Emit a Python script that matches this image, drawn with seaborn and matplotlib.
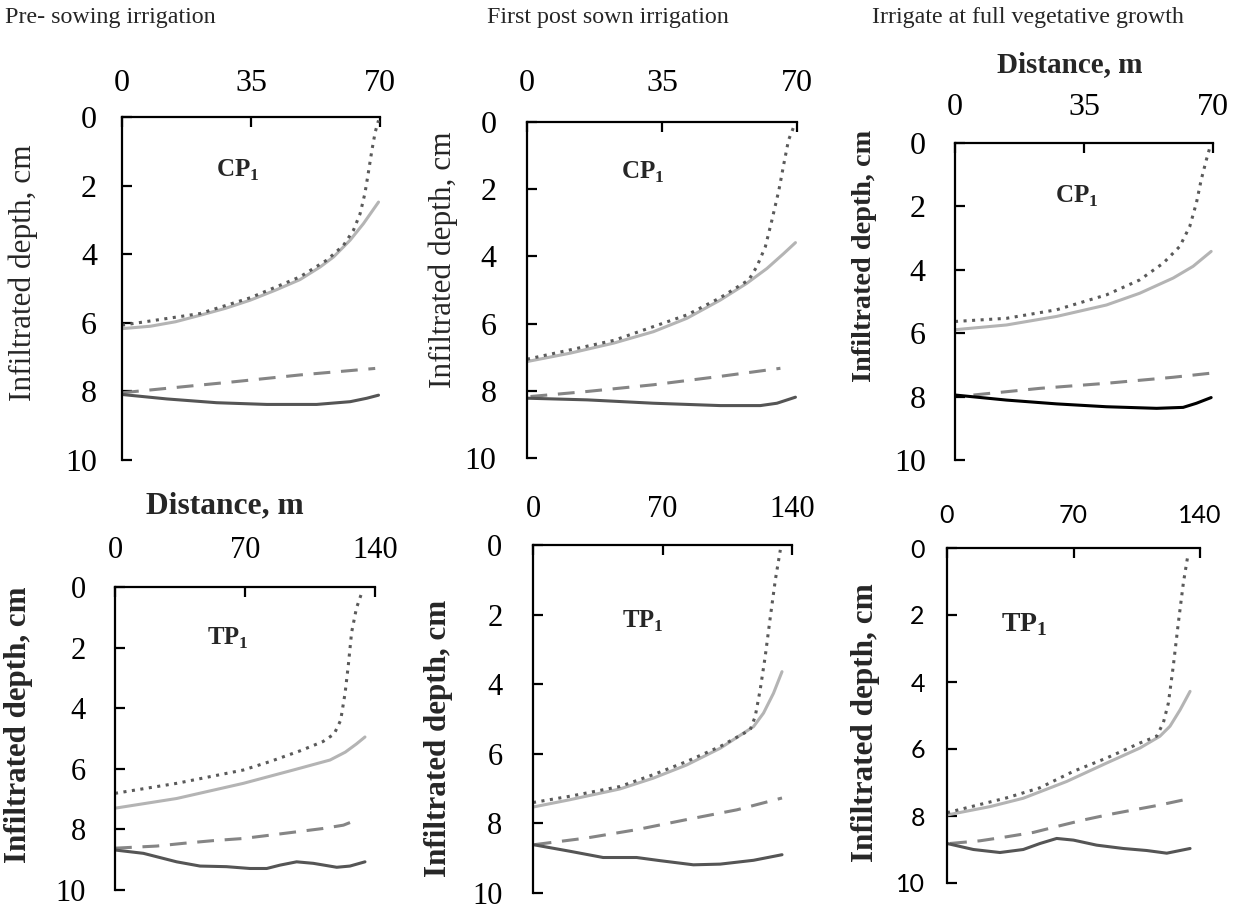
import numpy as np
import pandas as pd
import seaborn as sns
import matplotlib.pyplot as plt

# ------------------------------
# Data (x = distance m, y = infiltrated depth cm)
# ------------------------------
# Pre-sowing irrigation, CP1
pre_cp_dot_x = [0, 21.2, 34.8, 48.3, 55.6, 60.1, 62.8, 64.6, 65.9, 66.8, 67.8, 68.7, 69.6]
pre_cp_dot_y = [6.07, 5.73, 5.27, 4.66, 4.17, 3.74, 3.3, 2.82, 2.23, 1.65, 0.97, 0.44, 0.1]
pre_cp_sol_x = [0, 7.7, 14.5, 21.2, 28, 34.8, 41.6, 48.3, 53.8, 57.4, 61.9, 65.5, 69.6]
pre_cp_sol_y = [6.17, 6.1, 5.97, 5.78, 5.58, 5.34, 5.05, 4.74, 4.37, 4.08, 3.59, 3.11, 2.48]
pre_cp_dash_x = [0, 12.2, 30.3, 48.3, 68.7]
pre_cp_dash_y = [8.04, 7.91, 7.72, 7.52, 7.33]
pre_cp_low_x = [0, 12.2, 25.7, 39.3, 52.8, 61.9, 66.4, 69.6]
pre_cp_low_y = [8.09, 8.22, 8.33, 8.38, 8.38, 8.3, 8.2, 8.11]

# First post sown irrigation, CP1
post_cp_dot_x = [0, 22.5, 41.5, 50.1, 57.5, 59.6, 61.8, 63.5, 65.3, 66.6, 67.8, 69.3]
post_cp_dot_y = [7.06, 6.5, 5.74, 5.23, 4.7, 4.3, 3.71, 2.92, 2.03, 1.24, 0.54, 0.1]
post_cp_sol_x = [0, 11.2, 22.5, 32.8, 41.5, 50.1, 57, 62.2, 66.6, 69.6]
post_cp_sol_y = [7.13, 6.88, 6.58, 6.24, 5.84, 5.3, 4.8, 4.36, 3.91, 3.59]
post_cp_dash_x = [0.9, 15.6, 32.8, 50.1, 65.7]
post_cp_dash_y = [8.17, 8.02, 7.82, 7.57, 7.33]
post_cp_low_x = [0, 15.6, 32.8, 50.1, 60.5, 64.8, 69.6]
post_cp_low_y = [8.22, 8.27, 8.37, 8.44, 8.44, 8.37, 8.19]

# Irrigate at full vegetative growth, CP1
veg_cp_dot_x = [0, 14, 27.6, 41.1, 50.1, 56.5, 61, 63.7, 65.5, 66.8, 68.2, 69.1]
veg_cp_dot_y = [5.63, 5.53, 5.26, 4.79, 4.32, 3.79, 3.26, 2.63, 1.89, 1.16, 0.53, 0.16]
veg_cp_sol_x = [0, 14, 27.6, 41.1, 50.1, 59.2, 64.6, 69.5]
veg_cp_sol_y = [5.89, 5.74, 5.47, 5.11, 4.74, 4.26, 3.89, 3.42]
veg_cp_dash_x = [5, 23, 41.1, 59.2, 69.5]
veg_cp_dash_y = [7.95, 7.74, 7.58, 7.39, 7.26]
veg_cp_low_x = [0, 14, 27.6, 41.1, 54.7, 61.9, 65.5, 69.5]
veg_cp_low_y = [7.95, 8.11, 8.23, 8.32, 8.37, 8.34, 8.21, 8.03]

# Pre-sowing irrigation, TP1
pre_tp_dot_x = [0, 33.2, 69.1, 83.5, 100, 112, 118, 121.5, 123.9, 125.6, 127.4, 130, 132.8]
pre_tp_dot_y = [6.81, 6.48, 6.04, 5.76, 5.4, 5.1, 4.85, 4.4, 3.5, 2.6, 1.5, 0.7, 0.2]
pre_tp_sol_x = [0, 33.2, 69.1, 96, 115.8, 124, 130, 134.6]
pre_tp_sol_y = [7.3, 6.98, 6.48, 6.04, 5.71, 5.45, 5.18, 4.95]
pre_tp_dash_x = [0, 22.4, 36.8, 53, 69, 83.5, 97.8, 112, 123, 130]
pre_tp_dash_y = [8.62, 8.55, 8.46, 8.37, 8.3, 8.19, 8.08, 7.97, 7.86, 7.69]
pre_tp_low_x = [0, 15.3, 33.2, 45.8, 60, 72.7, 81.7, 88.8, 97.8, 106.8, 119.4, 126.5, 134.6]
pre_tp_low_y = [8.68, 8.79, 9.07, 9.21, 9.23, 9.29, 9.29, 9.18, 9.07, 9.12, 9.25, 9.21, 9.07]

# First post sown irrigation, TP1
post_tp_dot_x = [0, 19.9, 47, 65, 83.1, 101.2, 117.4, 120.1, 122.8, 125.5, 128.3, 131, 133.7]
post_tp_dot_y = [7.4, 7.22, 6.94, 6.6, 6.22, 5.79, 5.31, 4.93, 4.16, 3.21, 2.06, 1.0, 0.14]
post_tp_sol_x = [0, 19.9, 47, 65, 83.1, 101.2, 119.2, 124.6, 130, 134.6]
post_tp_sol_y = [7.53, 7.32, 7.01, 6.7, 6.32, 5.84, 5.22, 4.83, 4.26, 3.64]
post_tp_dash_x = [0.9, 28.9, 56, 83.1, 110.2, 134.6]
post_tp_dash_y = [8.61, 8.42, 8.18, 7.89, 7.61, 7.27]
post_tp_low_x = [0, 19.9, 37.9, 56, 68.6, 86.7, 101.2, 119.2, 134.6]
post_tp_low_y = [8.61, 8.8, 8.98, 8.98, 9.07, 9.19, 9.17, 9.06, 8.9]

# Irrigate at full vegetative growth, TP1
veg_tp_dot_x = [0, 32.9, 51.3, 69.8, 88.3, 106.8, 116, 119.7, 122.5, 125.2, 128, 130.8, 133.5]
veg_tp_dot_y = [7.9, 7.46, 7.16, 6.67, 6.27, 5.82, 5.62, 5.22, 4.63, 3.53, 2.24, 1.04, 0.15]
veg_tp_sol_x = [0, 23.8, 42.2, 66.2, 88.3, 106.8, 117.8, 123.4, 129, 134.5]
veg_tp_sol_y = [7.97, 7.72, 7.47, 6.97, 6.42, 5.97, 5.62, 5.32, 4.83, 4.28]
veg_tp_dash_x = [1.7, 18.3, 33, 47.8, 62.5, 75.4, 90.2, 105, 117.9, 132.6]
veg_tp_dash_y = [8.82, 8.74, 8.62, 8.49, 8.29, 8.12, 7.95, 7.8, 7.67, 7.5]
veg_tp_low_x = [0, 14.6, 29.3, 42.2, 51.5, 60.7, 70, 82.8, 97.6, 110.5, 121.6, 134.5]
veg_tp_low_y = [8.82, 9.0, 9.09, 9.0, 8.82, 8.67, 8.72, 8.87, 8.97, 9.03, 9.11, 8.97]

titles = ["Pre- sowing irrigation", "First post sown irrigation",
          "Irrigate at full vegetative growth"]
cp_ticks = [0, 35, 70]
tp_ticks = [0, 70, 140]
depth_ticks = [0, 2, 4, 6, 8, 10]

# ------------------------------
# Style
# ------------------------------
sns.set_style("ticks")
plt.rcParams["font.family"] = ["Liberation Serif", "DejaVu Serif"]
plt.rcParams["mathtext.fontset"] = "custom"
plt.rcParams["mathtext.rm"] = "Liberation Serif"
plt.rcParams["mathtext.bf"] = "Liberation Serif:bold"

W, H = 1240, 909
fig = plt.figure(figsize=(W / 100, H / 100), dpi=100)


def add_panel(left, top, right, bottom):
    return fig.add_axes([left / W, 1 - bottom / H, (right - left) / W, (bottom - top) / H])


C_DOT = "#5a5a5a"
C_LIGHT = "#b4b4b4"
C_DASH = "#858585"
C_DARK = "#555555"


def draw(ax, series, low_color):
    (dx, dy), (sx, sy), (hx, hy), (lx, ly) = series
    sns.lineplot(x=sx, y=sy, ax=ax, color=C_LIGHT, linewidth=2.2)
    sns.lineplot(x=dx, y=dy, ax=ax, color=C_DOT, linewidth=2.2, linestyle=(0, (1, 1.8)))
    sns.lineplot(x=hx, y=hy, ax=ax, color=C_DASH, linewidth=2.2, linestyle=(0, (5.5, 3.5)))
    sns.lineplot(x=lx, y=ly, ax=ax, color=low_color, linewidth=2.2)


def style(ax, xmax, xticks, tick_font, tick_size, xpad, ypad):
    ax.set_xlim(0, xmax)
    ax.set_ylim(10, 0)
    ax.xaxis.tick_top()
    ax.xaxis.set_label_position("top")
    ax.set_xticks(xticks)
    ax.set_yticks(depth_ticks)
    for s in ["right", "bottom"]:
        ax.spines[s].set_visible(False)
    for s in ["left", "top"]:
        ax.spines[s].set_linewidth(1.6)
        ax.spines[s].set_color("black")
    ax.tick_params(axis="x", direction="in", length=7, width=1.6, pad=xpad,
                   labelsize=tick_size, colors="black")
    ax.tick_params(axis="y", direction="in", length=7, width=1.6, pad=ypad,
                   labelsize=tick_size, colors="black")
    for lab in ax.get_xticklabels() + ax.get_yticklabels():
        lab.set_family(tick_font)
    ax.set_xlabel("")
    ax.set_ylabel("")
    ax.patch.set_alpha(0)


serif = ["Liberation Serif"]
sans = ["Lato", "Carlito", "DejaVu Sans"]

# ---- top row (CP1)
ax1 = add_panel(122, 117, 380, 460)
draw(ax1, [(pre_cp_dot_x, pre_cp_dot_y), (pre_cp_sol_x, pre_cp_sol_y),
           (pre_cp_dash_x, pre_cp_dash_y), (pre_cp_low_x, pre_cp_low_y)], C_DARK)
style(ax1, 70, cp_ticks, serif, 23, 14, 18)
ax1.set_ylabel("Infiltrated depth, cm", fontsize=22.5)
ax1.yaxis.set_label_coords(-0.326, 0.545)
ax1.text(31.5, 1.55, r"$\mathbf{CP}_{\mathbf{1}}$", fontsize=18, ha="center", va="center")

ax2 = add_panel(527, 122, 797, 458)
draw(ax2, [(post_cp_dot_x, post_cp_dot_y), (post_cp_sol_x, post_cp_sol_y),
           (post_cp_dash_x, post_cp_dash_y), (post_cp_low_x, post_cp_low_y)], C_DARK)
style(ax2, 70, cp_ticks, serif, 23, 17, 22)
ax2.set_ylabel("Infiltrated depth, cm", fontsize=22.5)
ax2.yaxis.set_label_coords(-0.256, 0.59)
ax2.text(30, 1.49, r"$\mathbf{CP}_{\mathbf{1}}$", fontsize=18, ha="center", va="center")

ax3 = add_panel(955, 143, 1213, 460)
draw(ax3, [(veg_cp_dot_x, veg_cp_dot_y), (veg_cp_sol_x, veg_cp_sol_y),
           (veg_cp_dash_x, veg_cp_dash_y), (veg_cp_low_x, veg_cp_low_y)], "black")
style(ax3, 70, cp_ticks, serif, 23, 15, 21)
ax3.set_ylabel("Infiltrated depth, cm", fontsize=20.3, fontweight="bold")
ax3.yaxis.set_label_coords(-0.302, 0.644)
ax3.set_xlabel("Distance, m", fontsize=21, fontweight="bold")
ax3.xaxis.set_label_coords(0.446, 1.224)
ax3.text(33, 1.7, r"$\mathbf{CP}_{\mathbf{1}}$", fontsize=18, ha="center", va="center")

# ---- bottom row (TP1)
ax4 = add_panel(115, 587, 375, 890)
draw(ax4, [(pre_tp_dot_x, pre_tp_dot_y), (pre_tp_sol_x, pre_tp_sol_y),
           (pre_tp_dash_x, pre_tp_dash_y), (pre_tp_low_x, pre_tp_low_y)], C_DARK)
style(ax4, 140, tp_ticks, serif, 22, 16, 21)
ax4.set_ylabel("Infiltrated depth, cm", fontsize=22.3, fontweight="bold")
ax4.yaxis.set_label_coords(-0.315, 0.545)
ax4.set_xlabel("Distance, m", fontsize=22.7, fontweight="bold")
ax4.xaxis.set_label_coords(0.423, 1.244)
ax4.text(60.8, 1.68, r"$\mathbf{TP}_{\mathbf{1}}$", fontsize=17.8, ha="center", va="center")

ax5 = add_panel(533, 545, 792, 893)
draw(ax5, [(post_tp_dot_x, post_tp_dot_y), (post_tp_sol_x, post_tp_sol_y),
           (post_tp_dash_x, post_tp_dash_y), (post_tp_low_x, post_tp_low_y)], C_DARK)
style(ax5, 140, tp_ticks, serif, 22, 15, 22)
ax5.set_ylabel("Infiltrated depth, cm", fontsize=22.4, fontweight="bold")
ax5.yaxis.set_label_coords(-0.309, 0.445)
ax5.text(59.5, 2.2, r"$\mathbf{TP}_{\mathbf{1}}$", fontsize=17.8, ha="center", va="center")

ax6 = add_panel(947, 548, 1200, 883)
draw(ax6, [(veg_tp_dot_x, veg_tp_dot_y), (veg_tp_sol_x, veg_tp_sol_y),
           (veg_tp_dash_x, veg_tp_dash_y), (veg_tp_low_x, veg_tp_low_y)], C_DARK)
style(ax6, 140, tp_ticks, sans, 18, 15, 16)
ax6.set_ylabel("Infiltrated depth, cm", fontsize=22.5, fontweight="bold")
ax6.yaxis.set_label_coords(-0.265, 0.48)
ax6.text(43, 2.3, r"$\mathbf{TP}_{\mathbf{1}}$", fontsize=20, ha="center", va="center")

# ---- section titles
fig.text(5 / W, 1 - 18 / H, titles[0], fontsize=17.3, ha="left", va="center")
fig.text(487 / W, 1 - 18 / H, titles[1], fontsize=17.3, ha="left", va="center")
fig.text(872 / W, 1 - 18 / H, titles[2], fontsize=17.3, ha="left", va="center")

fig.savefig("out.png", dpi=100, facecolor="white")
plt.close(fig)
